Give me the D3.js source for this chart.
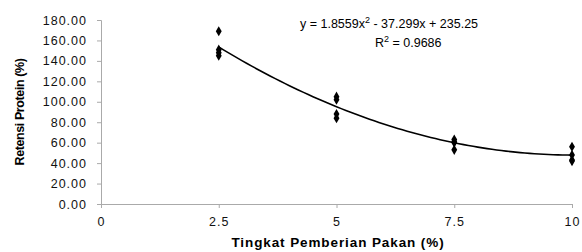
<!DOCTYPE html>
<html>
<head>
<meta charset="utf-8">
<script src="https://cdn.jsdelivr.net/npm/d3@7"></script>
<style>
body { margin: 0; background: #fff; }
text { font-family: "Liberation Sans", Arial, sans-serif; }
</style>
</head>
<body>
<div id="chart"></div>
<script>
var xLevels = [2.5, 2.5, 2.5, 2.5, 5, 5, 5, 5, 7.5, 7.5, 7.5, 7.5, 10, 10, 10, 10];
var retensi = [169, 151, 148, 145, 105, 102, 88, 84, 63, 61, 60, 53, 56, 48, 43, 42];
var xTicks = [0, 2.5, 5, 7.5, 10];
var yTicks = [0, 20, 40, 60, 80, 100, 120, 140, 160, 180];
// polynomial trendline coefficients
var coef = [1.8559, -37.299, 235.25];
var r2 = 0.9686;

var width = 582, height = 252;
var margin = {left: 101, right: 10, top: 20, bottom: 48};

var svg = d3.select("#chart").append("svg")
    .attr("width", width)
    .attr("height", height);

var x = d3.scaleLinear().domain([0, 10]).range([margin.left, 572]);
var y = d3.scaleLinear().domain([0, 180]).range([204, 20]);

var axisColor = "#aaa";

// y axis
var yAxis = svg.append("g")
    .attr("transform", "translate(" + margin.left + ",0)")
    .call(d3.axisLeft(y).tickValues(yTicks).tickSize(4).tickPadding(10)
        .tickFormat(d3.format(".2f")));
yAxis.selectAll("text")
    .style("font-size", "12.5px")
    .style("letter-spacing", "1px")
    .attr("fill", "#111");

// x axis
var xAxis = svg.append("g")
    .attr("transform", "translate(0," + y(0) + ")")
    .call(d3.axisBottom(x).tickValues(xTicks).tickSize(4).tickPadding(9)
        .tickFormat(function(d) { return d; }));
xAxis.selectAll("text")
    .style("font-size", "12.5px")
    .style("letter-spacing", "1px")
    .attr("fill", "#111");

svg.selectAll(".domain, .tick line").attr("stroke", axisColor);

// trendline
function poly(v) { return coef[0] * v * v + coef[1] * v + coef[2]; }
var curveX = d3.range(2.5, 10.001, 0.1);
svg.append("path")
    .datum(curveX)
    .attr("fill", "none")
    .attr("stroke", "#000")
    .attr("stroke-width", 1.6)
    .attr("d", d3.line().x(function(d) { return x(d); }).y(function(d) { return y(poly(d)); }));

// points
svg.selectAll(".pt")
    .data(retensi)
    .enter().append("path")
    .attr("class", "pt")
    .attr("transform", function(d, i) { return "translate(" + x(xLevels[i]) + "," + y(d) + ")"; })
    .attr("d", d3.symbol().type(d3.symbolDiamond).size(30))
    .attr("fill", "#000");

// equation
var eq = svg.append("text")
    .attr("x", 300).attr("y", 28)
    .style("font-size", "12.5px");
eq.append("tspan").text("y = 1.8559x");
eq.append("tspan").attr("dy", -5).style("font-size", "9px").text("2");
eq.append("tspan").attr("dy", 5).text(" - 37.299x  + 235.25");

var r = svg.append("text")
    .attr("x", 375).attr("y", 47)
    .style("font-size", "12.5px");
r.append("tspan").text("R");
r.append("tspan").attr("dy", -5).style("font-size", "9px").text("2");
r.append("tspan").attr("dy", 5).text(" = " + r2);

// axis titles
svg.append("text")
    .attr("transform", "translate(24," + ((y(0) + y(180)) / 2) + ") rotate(-90)")
    .attr("text-anchor", "middle")
    .style("font-size", "12.5px")
    .style("font-weight", "bold")
    .style("letter-spacing", "-0.4px")
    .text("Retensi Protein (%)");

svg.append("text")
    .attr("x", 338).attr("y", 247)
    .attr("text-anchor", "middle")
    .style("font-size", "13.5px")
    .style("font-weight", "bold")
    .style("letter-spacing", "0.9px")
    .text("Tingkat Pemberian Pakan (%)");
</script>
</body>
</html>
